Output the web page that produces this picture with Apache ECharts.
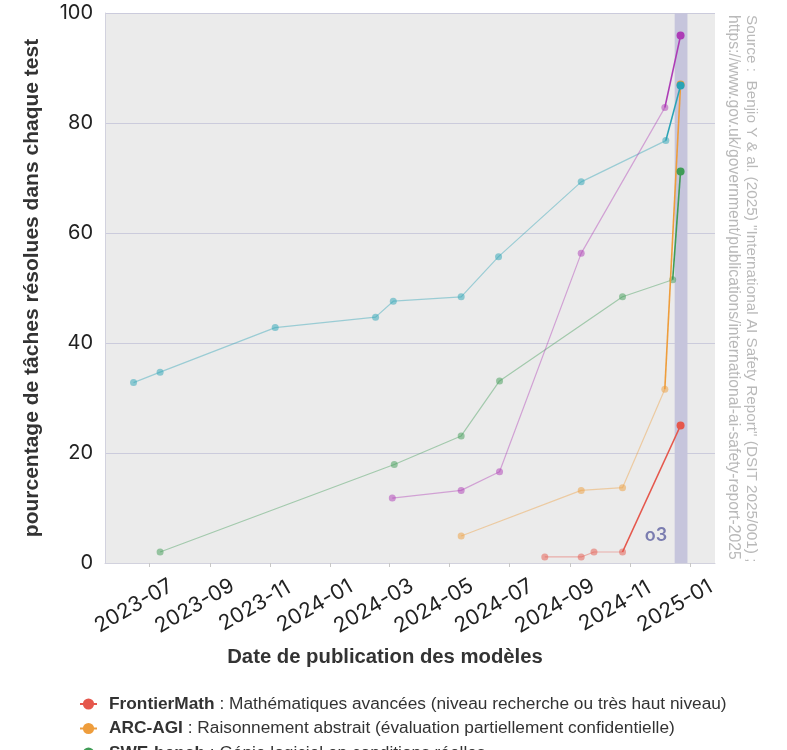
<!DOCTYPE html>
<html>
<head>
<meta charset="utf-8">
<script src="https://cdn.jsdelivr.net/npm/echarts@6/dist/echarts.min.js"></script>
<style>
  html, body { margin: 0; padding: 0; background: #fff; }
  #chart { width: 787px; height: 750px; }
</style>
</head>
<body>
<div id="chart"></div>
<script>
// valeurs (dates de publication, % de tâches résolues)
const frontierMathDates = ['2024-08-06', '2024-09-12', '2024-09-25', '2024-10-24', '2024-12-22']
const frontierMathValues = [1.1, 1.1, 2.0, 2.0, 25.0]

const arcAgiDates = ['2024-05-13', '2024-09-12', '2024-10-24', '2024-12-06', '2024-12-22']
const arcAgiValues = [4.9, 13.2, 13.7, 31.6, 87.0]

const sweBenchDates = ['2023-07-12', '2024-03-06', '2024-05-13', '2024-06-21', '2024-10-24', '2024-12-14', '2024-12-22']
const sweBenchValues = [2.0, 17.9, 23.1, 33.1, 48.4, 51.5, 71.2]

const gpqaDates = ['2023-06-15', '2023-07-12', '2023-11-06', '2024-02-16', '2024-03-05', '2024-05-13', '2024-06-20', '2024-09-12', '2024-12-07', '2024-12-22']
const gpqaValues = [32.8, 34.7, 42.8, 44.7, 47.6, 48.4, 55.7, 69.3, 76.8, 86.8]

const aimeDates = ['2024-03-04', '2024-05-13', '2024-06-21', '2024-09-12', '2024-12-06', '2024-12-22']
const aimeValues = [11.8, 13.2, 16.6, 56.3, 82.8, 95.9]

const xTickLabels = ['2023-07', '2023-09', '2023-11', '2024-01', '2024-03', '2024-05', '2024-07', '2024-09', '2024-11', '2025-01']
const yTickLabels = [0, 20, 40, 60, 80, 100]
const xRange = ['2023-05-17', '2025-01-26']

const legendNames = ['FrontierMath', 'ARC-AGI', 'SWE-bench']
const legendTexts = [
    'Mathématiques avancées (niveau recherche ou très haut niveau)',
    'Raisonnement abstrait (évaluation partiellement confidentielle)',
    'Génie logiciel en conditions réelles'
]

const o3Band = ['2024-12-16', '2024-12-29']
const o3LabelDate = '2024-11-27'
const o3LabelValue = 5

let chart = echarts.init(document.querySelector('#chart'))

const toTime = s => echarts.time.parse(s).getTime()
const tickValues = xTickLabels.map(s => toTime(s + '-01'))
const labelFont = 'Inter, "Noto Sans", sans-serif'
const textFont = '"Liberation Sans", Arial, sans-serif'

function zip(dates, values) {
    return dates.map((d, i) => [toTime(d), values[i]])
}

// une série pâle pour l'historique, une série vive pour le dernier segment (o3)
function makeSeries(name, color, dates, values) {
    const all = zip(dates, values)
    const last = all.slice(-2)
    return [
        {
            name: name,
            type: 'line',
            z: 4,
            color: color,
            symbol: 'circle',
            symbolSize: 8,
            lineStyle: {width: 1.6, color: color},
            itemStyle: {color: color},
            data: [{value: last[0], symbol: 'none'}, {value: last[1]}],
            silent: true
        },
        {
            name: name,
            type: 'line',
            z: 3,
            symbol: 'circle',
            symbolSize: 7,
            lineStyle: {width: 1.2, color: color, opacity: 0.42},
            itemStyle: {color: color, opacity: 0.5},
            data: all.slice(0, -1),
            silent: true
        }
    ]
}

let series = [{
    type: 'line',
    z: 1,
    data: [],
    silent: true,
    markArea: {
        silent: true,
        itemStyle: {color: '#c6c5dc'},
        data: [[{xAxis: toTime(o3Band[0])}, {xAxis: toTime(o3Band[1])}]]
    },
    markPoint: {
        silent: true,
        symbol: 'circle',
        symbolSize: 0,
        label: {
            show: true,
            position: 'inside',
            formatter: 'o3',
            color: '#7b7db0',
            fontSize: 18,
            fontWeight: 600,
            fontFamily: labelFont
        },
        data: [{coord: [toTime(o3LabelDate), o3LabelValue]}]
    }
}]

series = series
    .concat(makeSeries('FrontierMath', '#e5574c', frontierMathDates, frontierMathValues))
    .concat(makeSeries('ARC-AGI', '#ee9d3c', arcAgiDates, arcAgiValues))
    .concat(makeSeries('SWE-bench', '#3f9c56', sweBenchDates, sweBenchValues))
    .concat(makeSeries('GPQA', '#2aa3b5', gpqaDates, gpqaValues))
    .concat(makeSeries('AIME', '#ad3cb6', aimeDates, aimeValues))

chart.setOption({
    animation: false,
    backgroundColor: '#ffffff',
    grid: {
        left: 105,
        right: 72,
        top: 13,
        bottom: 187,
        show: true,
        backgroundColor: '#ebebeb',
        borderWidth: 0,
        outerBoundsMode: 'none'
    },
    legend: {
        orient: 'vertical',
        left: 79,
        top: 695,
        height: 300,
        padding: 0,
        itemGap: 6.5,
        itemWidth: 17,
        itemHeight: 14,
        selectedMode: false,
        data: legendNames,
        formatter: name => '{b|' + name + '} : ' + legendTexts[legendNames.indexOf(name)],
        textStyle: {
            fontFamily: textFont,
            fontSize: 17.3,
            lineHeight: 18,
            color: '#333',
            padding: [0, 0, 0, 7],
            rich: {
                b: {
                    fontFamily: textFont,
                    fontSize: 17.3,
                    lineHeight: 18,
                    fontWeight: 'bold',
                    color: '#333'
                }
            }
        }
    },
    xAxis: {
        type: 'value',
        min: toTime(xRange[0]),
        max: toTime(xRange[1]),
        axisLine: {show: true, onZero: false, lineStyle: {color: '#d2d2de', width: 1}},
        axisTick: {show: true, length: 4, customValues: tickValues, lineStyle: {color: '#c8c8c8'}},
        splitLine: {show: false},
        axisLabel: {
            customValues: tickValues,
            formatter: v => echarts.time.format(v, '{yyyy}-{MM}', false),
            rotate: 30,
            align: 'center',
            verticalAlign: 'middle',
            margin: 34,
            padding: [0, 36, 0, 0],
            fontFamily: labelFont,
            fontSize: 21,
            color: '#222'
        }
    },
    yAxis: {
        type: 'value',
        min: yTickLabels[0],
        max: yTickLabels[yTickLabels.length - 1],
        interval: 20,
        name: 'pourcentage de tâches résolues dans chaque test',
        nameLocation: 'middle',
        nameGap: 62,
        nameMoveOverlap: false,
        nameTextStyle: {
            fontFamily: textFont,
            fontSize: 21,
            fontWeight: 'bold',
            color: '#333'
        },
        axisLine: {show: true, lineStyle: {color: '#d2d2de', width: 1}},
        axisTick: {show: false},
        splitLine: {show: true, lineStyle: {color: '#cbcbdc', width: 1}},
        axisLabel: {
            margin: 12,
            fontFamily: labelFont,
            fontSize: 20,
            color: '#222'
        }
    },
    graphic: [
        {
            type: 'text',
            x: 385,
            y: 657,
            silent: true,
            style: {
                text: 'Date de publication des modèles',
                fontFamily: textFont,
                fontSize: 20.3,
                fontWeight: 'bold',
                fill: '#333',
                textAlign: 'center',
                textVerticalAlign: 'middle'
            }
        },
        {
            type: 'text',
            x: 751,
            y: 15,
            rotation: -Math.PI / 2,
            silent: true,
            style: {
                text: 'Source :  Benjio Y & al. (2025) "International AI Safety Report" (DSIT 2025/001) ;',
                fontFamily: textFont,
                fontSize: 15.3,
                fill: '#b9b9b9',
                textAlign: 'left',
                textVerticalAlign: 'middle'
            }
        },
        {
            type: 'text',
            x: 733,
            y: 15,
            rotation: -Math.PI / 2,
            silent: true,
            style: {
                text: 'https://www.gov.uk/government/publications/international-ai-safety-report-2025',
                fontFamily: textFont,
                fontSize: 15.7,
                fill: '#b9b9b9',
                textAlign: 'left',
                textVerticalAlign: 'middle'
            }
        }
    ],
    series: series
})
</script>
</body>
</html>
